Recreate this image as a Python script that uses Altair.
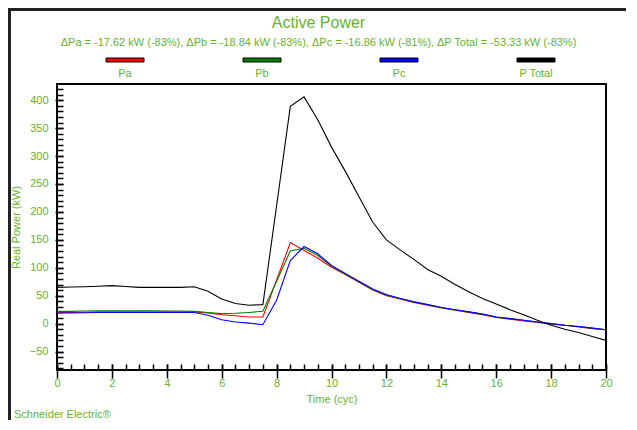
import altair as alt
import pandas as pd

# ---------------- data ----------------
t = [i * 0.5 for i in range(41)]  # time in cycles, 0..20

pa = [20, 20, 20.5, 21, 21, 21, 21, 21, 21, 21, 21,
      19, 16, 14, 12, 12,
      78, 145, 131, 117, 101,
      88, 74, 60, 50, 44,
      38, 33, 28, 24, 20,
      16, 11, 8, 5, 2,
      -1, -3, -6, -9, -11]
pb = [22, 22, 22.5, 23, 23, 23, 23, 23, 22.5, 22.5, 22,
      20, 18, 18.5, 20, 22,
      76, 130, 135, 122, 103,
      89, 75, 61, 51, 45,
      39, 34, 29, 25, 21,
      17, 12, 9, 6, 3,
      0, -3, -5, -8, -11]
pc = [19, 19, 19.5, 20, 20, 20, 20, 20, 20, 20, 20,
      15, 7, 3, 1, -2,
      42, 113, 138, 125, 104,
      90, 76, 62, 52, 45,
      39, 34, 29, 25, 21,
      17, 12, 9, 6, 3,
      0, -3, -5, -8, -11]
ptot = [65, 65.5, 66, 67, 68, 66.5, 65, 65, 65, 65, 66,
        58, 44, 36, 33, 34,
        211, 389, 406, 365, 316,
        273, 227, 182, 150, 132,
        115, 97, 85, 70, 57,
        45, 35, 25, 16, 6,
        -3, -10, -16, -23, -30]

names = ["Pa", "Pb", "Pc", "P Total"]
colors = ["#FF0000", "#008000", "#0000FF", "#000000"]

x_major = [0, 2, 4, 6, 8, 10, 12, 14, 16, 18, 20]
x_minor = [i * 0.5 for i in range(41)]
y_major = [-50, 0, 50, 100, 150, 200, 250, 300, 350, 400]
y_minor = list(range(-80, 430, 10))

title_text = "Active Power"
subtitle_text = ("\u0394Pa = -17.62 kW (-83%), \u0394Pb = -18.84 kW (-83%), "
                 "\u0394Pc = -16.86 kW (-81%), \u0394P Total = -53.33 kW (-83%)")
footer_text = "Schneider Electric\u00ae"

# ---------------- build ----------------
rows = []
for name, vals in zip(names, [pa, pb, pc, ptot]):
    for ti, v in zip(t, vals):
        rows.append({"t": ti, "v": v, "s": name})
df = pd.DataFrame(rows)

GREEN = "#66B22E"
FONT = "Liberation Sans"
W, H = 549, 286

xscale = alt.Scale(domain=[0, 20], nice=False, zero=False)
yscale = alt.Scale(domain=[-83, 429], nice=False, zero=False)
cscale = alt.Scale(domain=names, range=colors)

x_axis_major = alt.Axis(values=x_major, orient="bottom", offset=-6, tickSize=14,
                        tickColor="black", tickWidth=1.5, domain=False, grid=False,
                        labelColor=GREEN, labelFontSize=11, labelFont=FONT,
                        labelPadding=-1, format="d", labelFlush=False,
                        title="Time (cyc)", titleColor=GREEN, titleFontSize=11,
                        titleFont=FONT, titleFontWeight="normal", titlePadding=5)
y_axis_major = alt.Axis(values=y_major, orient="left", offset=-6, tickSize=8,
                        tickColor="black", tickWidth=1.5, domain=False, grid=False,
                        labelColor=GREEN, labelFontSize=11, labelFont=FONT,
                        labelPadding=7, format="d", labelFlush=False,
                        title="Real Power (kW)", titleColor=GREEN, titleFontSize=11,
                        titleFont=FONT, titleFontWeight="normal", titlePadding=8)
x_axis_minor = alt.Axis(values=x_minor, orient="bottom", offset=-6, tickSize=6,
                        tickColor="black", tickWidth=1.5, domain=False, grid=False,
                        labels=False, title="")
y_axis_minor = alt.Axis(values=y_minor, orient="left", offset=-6, tickSize=6,
                        tickColor="black", tickWidth=1.5, domain=False, grid=False,
                        labels=False, title="")

minor = alt.Chart(df).mark_line(opacity=0).encode(
    x=alt.X("t:Q", scale=xscale, axis=x_axis_minor),
    y=alt.Y("v:Q", scale=yscale, axis=y_axis_minor),
    detail="s:N",
)

lines = alt.Chart(df).mark_line(strokeWidth=1.1, clip=True).encode(
    x=alt.X("t:Q", scale=xscale, axis=x_axis_major),
    y=alt.Y("v:Q", scale=yscale, axis=y_axis_major),
    color=alt.Color("s:N", scale=cscale, legend=None),
)

leg_df = pd.DataFrame({"s": names, "i": [0, 1, 2, 3]})
leg_x = alt.X("i:Q", scale=alt.Scale(domain=[0, 3], range=[68, 479]), axis=None)
leg_bars = alt.Chart(leg_df).mark_tick(orient="horizontal", size=38, thickness=4,
                                       filled=True, stroke="black", strokeWidth=1,
                                       opacity=1).encode(
    x=leg_x, y=alt.value(-24),
    color=alt.Color("s:N", scale=cscale, legend=None),
)
leg_text = alt.Chart(leg_df).mark_text(font=FONT, fontSize=11, color=GREEN,
                                       baseline="middle", align="center").encode(
    x=leg_x, y=alt.value(-10), text="s:N",
)

one = pd.DataFrame({"k": [0]})
title_mark = alt.Chart(one).mark_text(font=FONT, fontSize=16, color=GREEN,
                                      align="center", baseline="middle").encode(
    x=alt.value(261.5), y=alt.value(-61), text=alt.value(title_text))
subtitle_mark = alt.Chart(one).mark_text(font=FONT, fontSize=11, color=GREEN,
                                         align="center", baseline="middle").encode(
    x=alt.value(261.5), y=alt.value(-41), text=alt.value(subtitle_text))
footer_mark = alt.Chart(one).mark_text(font=FONT, fontSize=11, color=GREEN,
                                       align="left", baseline="middle").encode(
    x=alt.value(-43), y=alt.value(331), text=alt.value(footer_text))

frame_left = alt.Chart(one).mark_rule(color="#222222", strokeWidth=3).encode(
    x=alt.value(-47.5), y=alt.value(-76), y2=alt.value(360))
frame_top = alt.Chart(one).mark_rule(color="#222222", strokeWidth=3).encode(
    x=alt.value(-49), x2=alt.value(580), y=alt.value(-74.5))

chart = alt.layer(
    frame_left, frame_top, minor, lines, leg_bars, leg_text,
    title_mark, subtitle_mark, footer_mark,
).resolve_scale(x="independent").resolve_axis(x="independent", y="independent").properties(
    width=W, height=H,
    padding={"left": 49, "top": 76, "right": 20, "bottom": 50},
    autosize=alt.AutoSizeParams(type="none"),
    background="white",
).configure_view(stroke="black", strokeWidth=2)

chart.save("out.html", embed_options={"renderer": "svg", "actions": False})
